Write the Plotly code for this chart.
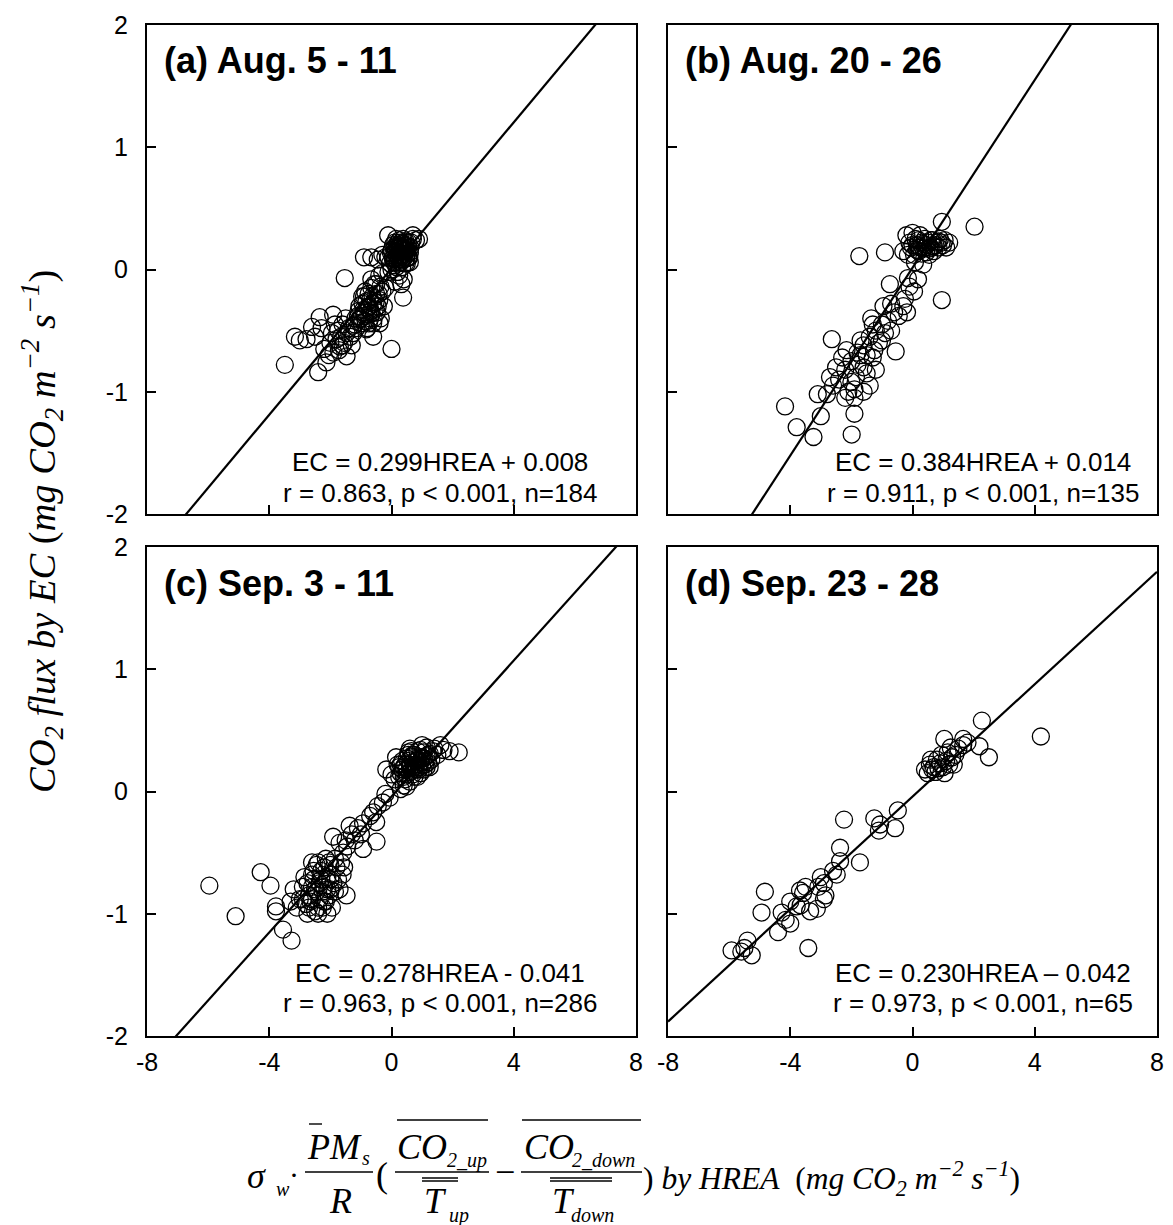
import plotly.graph_objects as go

PAGE_W, PAGE_H = 1173, 1225
OFF = 8  # default page body margin of the written html
W, H = PAGE_W - OFF, PAGE_H - OFF

# ---------------- data ----------------
a_x = [0.10, 0.20, 0.30, 0.15, 0.25, 0.35, 0.05, 0.40, 0.45, 0.50, 0.55, 0.60, 0.20, 0.10, 0.30, 0.00,
       -0.10, 0.38, 0.65, 0.70, 0.80, 0.15, 0.25, 0.45, 0.55, 0.35, 0.05, -0.05, 0.28, 0.18, 0.42, 0.12,
       0.60, 0.50, 0.33, 0.22, -0.20, -0.30, -0.45, -0.66, -0.90, -0.11, 0.70, 0.90, 0.00, 0.20,
       0.12, 0.22, 0.32, 0.42, 0.52, 0.18, 0.28, 0.38, 0.48, 0.08, 0.26, 0.36, 0.46, 0.56, 0.16, 0.30,
       0.40, 0.50, 0.24, 0.34, 0.44, 0.14, 0.04, 0.62, 0.58, 0.20, 0.30, 0.10, -0.02, 0.48,
       -0.66, -0.40, -0.10, 0.32, 0.38, 0.10, -0.20, -0.50, 0.25, -0.30, 0.40,
       -0.78, -0.90, -0.70, -0.60, -1.00, -0.85, -0.50, -0.95, -1.10, -0.65, -0.75, -0.55, -1.20, -0.40,
       -0.30, -0.80, -1.05, -0.70, -0.90, -0.45, -1.15, -0.60, -0.35, -0.25, -0.82, -1.26, -1.04, -0.60, -0.39,
       -0.72, -0.82, -0.92, -0.62, -0.52, -0.68, -0.88, -0.98, -0.76, -0.58, -1.08, -0.48, -0.66, -0.86,
       -0.96, -0.74, -0.42, -1.18, -0.56, -0.36,
       -1.80, -1.69, -1.47, -1.47, -1.60, -1.35, -1.91, -2.35, -2.29, -2.13, -2.40, -2.78, -3.16, -3.00,
       -3.49, -1.53, 0.00, -2.00, -1.75, -2.20, -1.90, -1.60, -1.30, -2.50, -2.60, -1.85,
       -1.65, -1.55, -1.72, -1.40, -1.95, -2.05, -1.25, -1.50]
a_y = [0.18, 0.15, 0.12, 0.10, 0.20, 0.17, 0.12, 0.10, 0.15, 0.20, 0.18, 0.14, 0.05, 0.08, 0.22, 0.16,
       0.10, 0.25, 0.22, 0.25, 0.24, 0.25, 0.08, 0.05, 0.10, 0.02, 0.20, 0.05, 0.14, 0.12, 0.20, 0.15,
       0.06, 0.12, 0.08, 0.18, 0.10, 0.12, 0.08, 0.10, 0.10, 0.28, 0.28, 0.25, 0.00, -0.02,
       0.14, 0.10, 0.16, 0.13, 0.16, 0.20, 0.18, 0.08, 0.09, 0.06, 0.24, 0.21, 0.23, 0.22, 0.02, 0.06,
       0.17, 0.05, 0.13, 0.11, 0.19, 0.17, 0.09, 0.18, 0.10, 0.22, 0.19, 0.22, 0.14, 0.17,
       -0.08, -0.05, -0.02, -0.12, -0.23, -0.10, -0.15, -0.12, -0.05, -0.03, -0.08,
       -0.31, -0.35, -0.25, -0.28, -0.40, -0.42, -0.20, -0.28, -0.38, -0.36, -0.20, -0.33, -0.45, -0.25,
       -0.18, -0.48, -0.30, -0.40, -0.22, -0.30, -0.48, -0.44, -0.40, -0.30, -0.49, -0.46, -0.41, -0.55, -0.44,
       -0.30, -0.26, -0.33, -0.22, -0.27, -0.34, -0.38, -0.44, -0.37, -0.40, -0.34, -0.35, -0.15, -0.18,
       -0.22, -0.44, -0.20, -0.40, -0.12, -0.14,
       -0.57, -0.63, -0.52, -0.71, -0.45, -0.55, -0.37, -0.39, -0.48, -0.76, -0.84, -0.57, -0.55, -0.58,
       -0.78, -0.07, -0.65, -0.60, -0.50, -0.65, -0.68, -0.62, -0.62, -0.55, -0.47, -0.45,
       -0.55, -0.60, -0.66, -0.48, -0.52, -0.70, -0.52, -0.40]

b_x = [0.47, 0.30, 0.60, 0.80, 1.00, 1.20, 0.20, 0.10, -0.10, -0.30, -0.20, 0.40, 0.70, 0.90, 0.55, 0.35,
       0.15, 0.05, -0.05, 0.25, 0.65, 0.85, 1.10, 0.45, -0.15, 0.00, 0.96, 2.03, -1.74, -0.90,
       0.25, 0.50, 0.75, 0.60, 0.35, 0.15, 0.85, 0.40, 0.70, 0.20, 0.55, 0.95, 0.30, 1.05, 0.00,
       0.08, 0.35, -0.15, 0.18, 0.05, -0.10, -0.74, 0.96,
       -0.95, -0.70, -0.30, -0.18, -0.45, -0.25,
       -1.00, -1.20, -0.80, -1.40, -1.60, -1.10, -0.90, -1.30, -1.50, -1.70, -0.70, -1.25, -1.00, -1.80,
       -0.55, -2.64, -2.16, -1.35, -0.60,
       -2.00, -2.20, -1.80, -2.40, -1.60, -2.00, -2.60, -1.50, -2.30, -1.90, -2.50, -1.70, -2.10, -1.20,
       -1.40, -2.80, -3.10, -2.20, -1.90, -1.60, -2.70, -1.30, -1.85,
       -4.17, -3.79, -3.00, -3.24, -1.99, -1.90]
b_y = [0.20, 0.22, 0.18, 0.22, 0.20, 0.22, 0.15, 0.25, 0.22, 0.15, 0.28, 0.25, 0.15, 0.25, 0.12, 0.17,
       0.20, 0.12, 0.18, 0.28, 0.24, 0.18, 0.18, 0.14, 0.12, 0.30, 0.39, 0.35, 0.11, 0.14,
       0.18, 0.22, 0.20, 0.24, 0.21, 0.16, 0.23, 0.18, 0.19, 0.24, 0.17, 0.22, 0.13, 0.24, 0.20,
       0.06, 0.04, -0.07, -0.08, -0.18, -0.14, -0.12, -0.25,
       -0.30, -0.28, -0.30, -0.35, -0.38, -0.24,
       -0.45, -0.50, -0.42, -0.55, -0.62, -0.60, -0.52, -0.45, -0.70, -0.58, -0.50, -0.66, -0.58, -0.68,
       -0.67, -0.57, -0.66, -0.40, -0.35,
       -0.75, -0.82, -0.78, -0.90, -0.80, -0.92, -0.95, -0.85, -0.72, -0.98, -0.80, -0.70, -1.00, -0.82,
       -0.95, -1.02, -1.02, -1.05, -1.05, -1.00, -0.88, -0.72, -0.88,
       -1.12, -1.29, -1.20, -1.37, -1.35, -1.18]

c_x = [0.81, 0.60, 1.00, 0.40, 1.20, 0.70, 0.90, 0.50, 1.10, 0.30, 0.65, 0.85, 1.30, 0.45, 0.75, 1.40,
       0.20, 0.55, 0.95, 1.15, 0.35, 0.60, 1.05, 0.80, 0.70, 0.90, 0.50, 1.25, 0.40, -0.17, 0.00, 0.10,
       0.49, 0.30, 1.50, 1.70, 1.90, 2.20, 1.60, 0.15, 0.25, 1.00, 0.60,
       0.45, 0.55, 0.65, 0.75, 0.85, 0.95, 1.05, 1.15, 1.25, 0.50, 0.60, 0.70, 0.80, 0.90, 1.00, 1.10,
       1.20, 1.35, 0.35, 0.40, 0.55, 0.65, 0.75, 0.85, 0.95, 1.05, 1.15, 0.30, 0.25, 0.62,
       -0.06, -0.28, -0.45, -0.60, -0.70, -0.50, -0.93, -0.49, -1.00, -1.37, -1.20, -0.93, -1.91, -1.58,
       -1.45, -1.70, -0.20,
       -2.35, -2.10, -2.50, -2.00, -2.70, -2.20, -1.90, -2.60, -2.40, -2.80, -1.80, -2.15, -2.45, -3.00,
       -2.90, -1.70, -2.25, -2.55, -2.05, -3.10, -2.75, -1.60, -2.30, -2.65, -1.95, -2.85, -3.20, -2.40,
       -1.85, -1.47, -2.10, -3.30, -2.60, -2.00, -2.20,
       -2.30, -2.10, -2.45, -2.60, -2.20, -1.95, -2.35, -2.55, -2.75, -2.00, -2.15, -2.50, -2.70, -1.85,
       -2.40, -2.90, -1.75, -2.25, -2.05, -2.60, -1.65, -1.55, -1.50, -1.30, -1.10,
       -5.96, -5.10, -4.28, -3.96, -3.78, -3.78, -3.55, -3.27]
c_y = [0.25, 0.22, 0.28, 0.20, 0.30, 0.30, 0.20, 0.27, 0.22, 0.15, 0.17, 0.33, 0.26, 0.10, 0.12, 0.35,
       0.22, 0.32, 0.15, 0.36, 0.25, 0.08, 0.32, 0.18, 0.24, 0.28, 0.18, 0.20, 0.05, 0.18, 0.14, 0.10,
       0.04, 0.02, 0.30, 0.34, 0.33, 0.32, 0.38, 0.28, 0.20, 0.38, 0.35,
       0.22, 0.25, 0.28, 0.30, 0.26, 0.24, 0.27, 0.29, 0.31, 0.14, 0.16, 0.14, 0.22, 0.18, 0.21, 0.25,
       0.24, 0.33, 0.18, 0.12, 0.30, 0.33, 0.20, 0.12, 0.34, 0.18, 0.20, 0.22, 0.12, 0.20,
       -0.05, -0.09, -0.12, -0.17, -0.20, -0.25, -0.26, -0.41, -0.35, -0.28, -0.40, -0.47, -0.37, -0.50,
       -0.45, -0.42, -0.02,
       -0.75, -0.70, -0.80, -0.60, -0.85, -0.90, -0.75, -0.68, -0.95, -0.92, -0.62, -0.55, -0.60, -0.88,
       -0.78, -0.80, -0.82, -0.72, -0.85, -0.95, -1.00, -0.68, -0.65, -0.90, -0.95, -0.70, -0.80, -1.00,
       -0.55, -0.85, -1.00, -0.90, -0.58, -0.80, -0.78,
       -0.72, -0.80, -0.82, -0.78, -0.62, -0.68, -0.88, -0.65, -0.75, -0.72, -0.90, -0.98, -0.95, -0.82,
       -0.58, -0.88, -0.72, -0.95, -0.58, -0.88, -0.58, -0.62, -0.40, -0.35, -0.30,
       -0.77, -1.02, -0.66, -0.77, -0.94, -0.98, -1.13, -1.22]

d_x = [0.90, 0.41, 0.57, 0.70, 0.80, 1.00, 1.10, 1.20, 0.95, 1.30, 0.75, 1.05, 1.40, 0.60, 0.85, 1.15,
       1.50, 1.04, 1.66, 1.66, 2.19, 2.50, 2.27, 4.20, 1.25, 0.50, 1.35, 0.65, 1.80,
       -0.48, -1.25, -1.06, -1.10, -0.57, -2.24,
       -2.37, -2.37, -1.72, -2.48, -2.60,
       -3.08, -2.85, -2.90, -3.68, -3.58, -3.50,
       -4.83, -4.94, -4.28, -4.15, -4.00, -4.40, -3.35, -3.13, -3.79, -3.41, -3.66, -4.00,
       -5.92, -5.60, -5.50, -5.26, -5.40, -3.00, -2.90]
d_y = [0.23, 0.18, 0.22, 0.20, 0.26, 0.20, 0.25, 0.22, 0.30, 0.28, 0.16, 0.15, 0.30, 0.26, 0.19, 0.32,
       0.35, 0.43, 0.43, 0.38, 0.37, 0.28, 0.58, 0.45, 0.36, 0.15, 0.22, 0.18, 0.40,
       -0.155, -0.22, -0.27, -0.32, -0.30, -0.23,
       -0.46, -0.57, -0.58, -0.68, -0.65,
       -0.78, -0.85, -0.88, -0.81, -0.83, -0.78,
       -0.82, -0.99, -0.99, -1.05, -1.08, -1.15, -0.98, -0.96, -0.94, -1.28, -0.93, -0.90,
       -1.30, -1.31, -1.28, -1.34, -1.22, -0.70, -0.75]

slopes = [0.299, 0.384, 0.278, 0.230]
intercepts = [0.008, 0.014, -0.041, -0.042]

panel_titles = ["(a) Aug. 5 - 11", "(b) Aug. 20 - 26", "(c) Sep. 3 - 11", "(d) Sep. 23 - 28"]
eq_texts = ["EC = 0.299HREA + 0.008", "EC = 0.384HREA + 0.014",
            "EC = 0.278HREA - 0.041", "EC = 0.230HREA \u2013 0.042"]
stat_texts = ["r = 0.863, p < 0.001, n=184", "r = 0.911, p < 0.001, n=135",
              "r = 0.963, p < 0.001, n=286", "r = 0.973, p < 0.001, n=65"]

x_ticks = [-8, -4, 0, 4, 8]
x_ticklabels = ["-8", "-4", "0", "4", "8"]
y_ticks = [-2, -1, 0, 1, 2]
y_ticklabels = ["-2", "-1", "0", "1", "2"]
x_range = [-8, 8]
y_range = [-2, 2]

xs = [a_x, b_x, c_x, d_x]
ys = [a_y, b_y, c_y, d_y]

# ---------------- layout geometry (page pixels) ----------------
col_px = [(147, 636), (668, 1157)]
row_px = [(25, 514), (547, 1036)]


def fx(p):
    return (p - OFF) / W


def fy(p):
    return 1 - (p - OFF) / H


SANS = "Liberation Sans, Arial, sans-serif"
SERIF = "Liberation Serif, Times New Roman, serif"

fig = go.Figure()
layout = dict(
    width=W, height=H,
    margin=dict(l=0, r=0, t=0, b=0, autoexpand=False),
    paper_bgcolor="white", plot_bgcolor="white",
    showlegend=False,
)

annotations = []
shapes = []

for i in range(4):
    r, c = divmod(i, 2)
    n = "" if i == 0 else str(i + 1)
    xa, ya = "x" + n, "y" + n
    x0, x1 = col_px[c]
    y0, y1 = row_px[r]
    common = dict(
        showline=True, linecolor="black", linewidth=2, mirror=True,
        ticks="inside", ticklen=9, tickwidth=1.5, tickcolor="black",
        showgrid=False, zeroline=False, fixedrange=True,
        tickfont=dict(family=SANS, size=25, color="black"),
    )
    layout["xaxis" + n] = dict(
        common, domain=[fx(x0), fx(x1)], range=x_range, anchor=ya,
        tickvals=x_ticks, ticktext=x_ticklabels, showticklabels=(r == 1),
        ticklabelstandoff=3,
    )
    layout["yaxis" + n] = dict(
        common, domain=[fy(y1), fy(y0)], range=y_range, anchor=xa,
        tickvals=y_ticks, ticktext=y_ticklabels, showticklabels=(c == 0),
        ticklabelstandoff=12,
    )
    fig.add_trace(go.Scatter(
        x=xs[i], y=ys[i], mode="markers", xaxis=xa, yaxis=ya,
        marker=dict(symbol="circle-open", size=17, color="black", line=dict(width=1.3)),
        cliponaxis=True,
    ))
    fig.add_trace(go.Scatter(
        x=x_range, y=[slopes[i] * v + intercepts[i] for v in x_range],
        mode="lines", xaxis=xa, yaxis=ya, line=dict(color="black", width=2.2),
    ))
    annotations.append(dict(
        text="<b>" + panel_titles[i] + "</b>", xref="paper", yref="paper",
        x=fx(x0 + 15), y=fy(y0 + 36), xanchor="left", yanchor="middle", showarrow=False,
        font=dict(family=SANS, size=36, color="black"),
    ))
    cx = 440 if c == 0 else 983
    ly = [437, 468] if r == 0 else [426, 456]
    for txt, dy in zip([eq_texts[i], stat_texts[i]], ly):
        annotations.append(dict(
            text=txt, xref="paper", yref="paper", x=fx(cx), y=fy(y0 + dy),
            xanchor="center", yanchor="middle", showarrow=False,
            font=dict(family=SANS, size=26, color="black"),
        ))

# ---------------- y axis title ----------------
annotations.append(dict(
    text="<i>CO<sub>2</sub> flux by EC</i> (<i>mg CO<sub>2</sub> m<sup>\u22122</sup> s<sup>\u22121</sup></i>)",
    xref="paper", yref="paper", x=fx(42), y=fy(532), textangle=-90,
    xanchor="center", yanchor="middle", showarrow=False,
    font=dict(family=SERIF, size=38.5, color="black"),
))


# ---------------- x axis title (formula built from text + rules) ----------------
def lab(text, xc, yc, size, italic=True, anchor="center"):
    t = "<i>" + text + "</i>" if italic else text
    annotations.append(dict(
        text=t, xref="paper", yref="paper", x=fx(xc), y=fy(yc),
        xanchor=anchor, yanchor="middle", showarrow=False,
        font=dict(family=SERIF, size=size, color="black"),
    ))


def rule(xa_, xb_, y_, w=1.4):
    shapes.append(dict(
        type="line", xref="paper", yref="paper",
        x0=fx(xa_), x1=fx(xb_), y0=fy(y_), y1=fy(y_),
        line=dict(color="black", width=w),
    ))


BIG, SMALL = 36, 20
lab("\u03c3", 256, 1176, BIG)
lab("w", 283, 1189, SMALL)
lab("\u00b7", 294, 1174, 30, italic=False)
lab("PM", 334, 1147, BIG)
lab("s", 366, 1158, SMALL)
lab("R", 340, 1201, BIG)
rule(309, 322, 1124)
rule(305, 373, 1172)
lab("(", 382, 1175, BIG, italic=False)
lab("CO", 422, 1147, BIG)
lab("2_up", 467, 1160, SMALL)
rule(397, 488, 1120)
rule(395, 489, 1172)
rule(422, 458, 1178)
rule(422, 458, 1181)
lab("T", 435, 1201, BIG)
lab("up", 459, 1215, SMALL)
lab("\u2212", 505, 1172, BIG, italic=False)
lab("CO", 549, 1147, BIG)
lab("2_down", 604, 1160, SMALL)
rule(522, 641, 1120)
rule(521, 642, 1172)
rule(550, 612, 1178)
rule(550, 612, 1181)
lab("T", 563, 1201, BIG)
lab("down", 592, 1215, SMALL)
annotations.append(dict(
    text=")<i> by HREA</i>\u00a0\u00a0(<i>mg CO<sub>2</sub> m<sup>\u22122</sup> s<sup>\u22121</sup></i>)",
    xref="paper", yref="paper", x=fx(641), y=fy(1178),
    xanchor="left", yanchor="middle", showarrow=False,
    font=dict(family=SERIF, size=31.5, color="black"),
))

layout["annotations"] = annotations
layout["shapes"] = shapes
fig.update_layout(**layout)
fig.write_html("out.html")
